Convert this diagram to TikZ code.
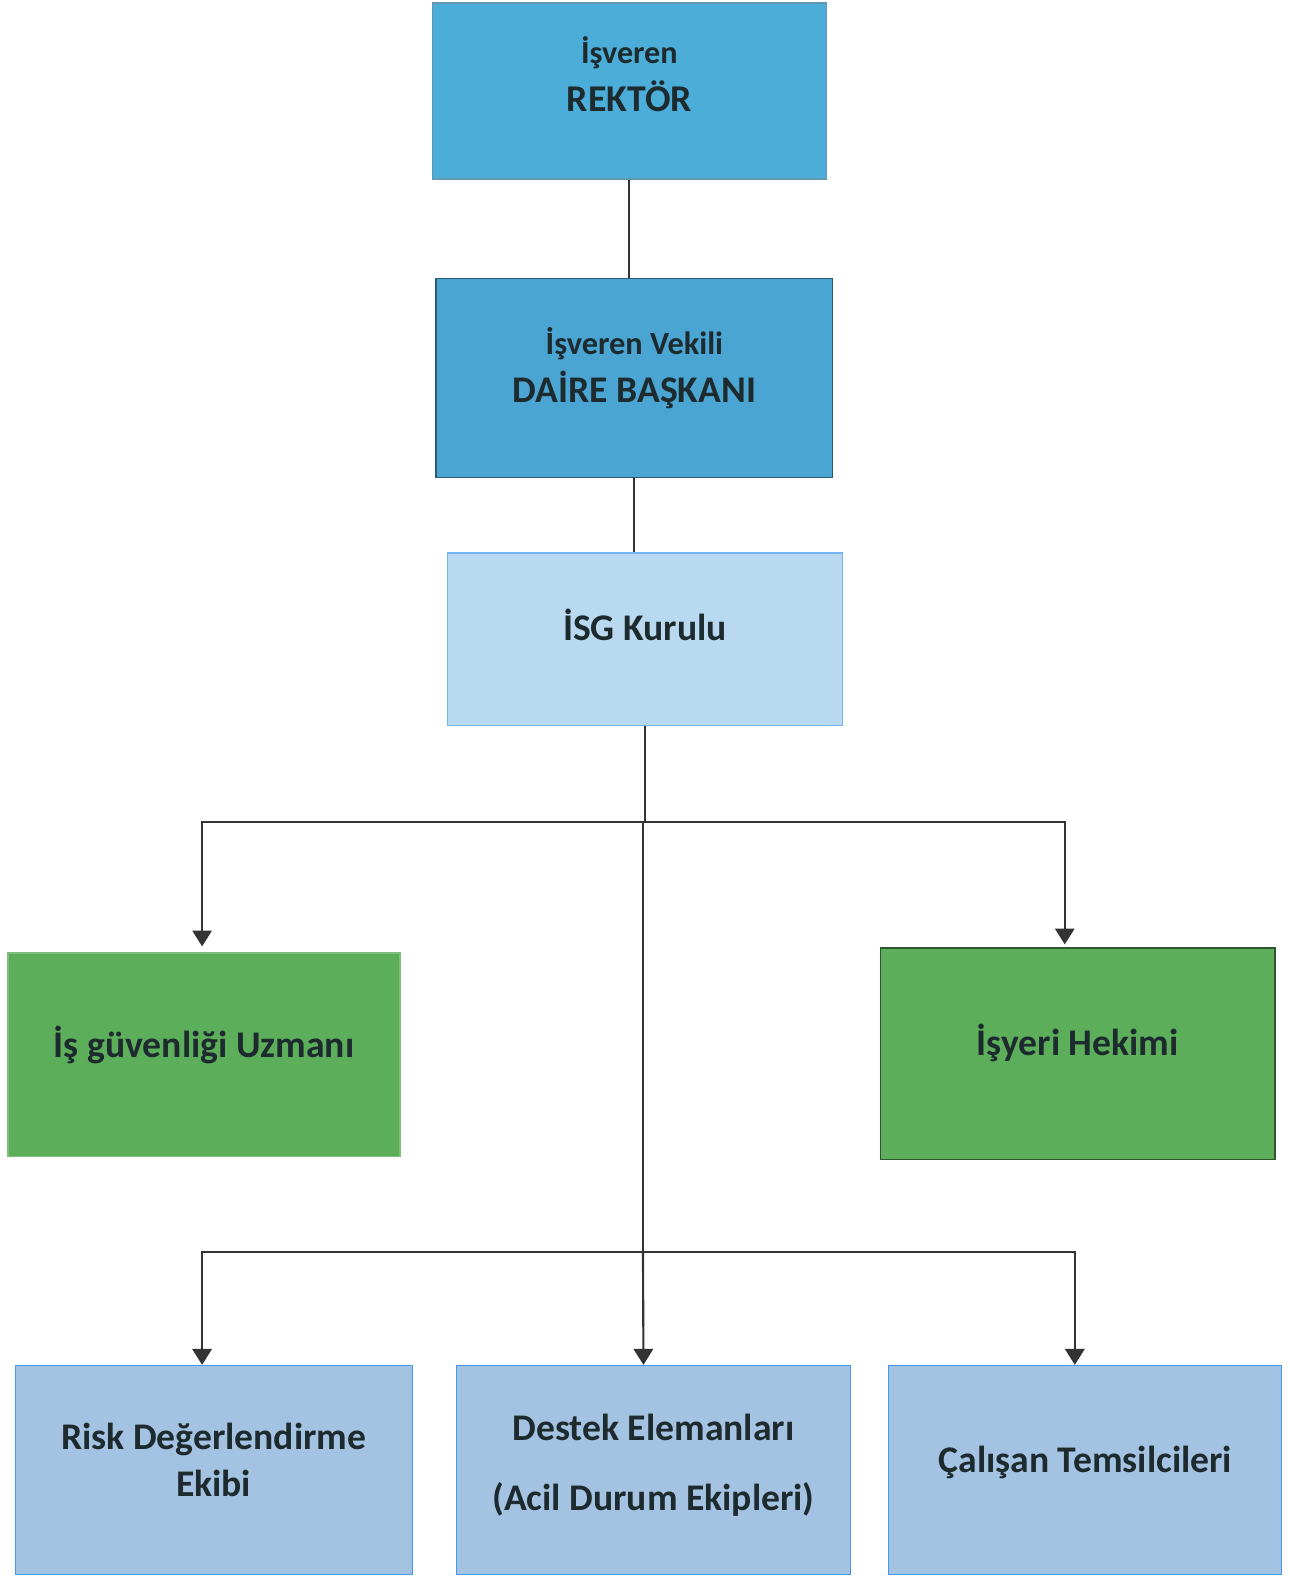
\documentclass[tikz,border=0pt]{standalone}
\usepackage{fontspec}
\setmainfont{Carlito}
\usepackage{xcolor}
\usepackage{tikz}
\usetikzlibrary{shapes, arrows.meta, calc, positioning}

\definecolor{rektorblue}{HTML}{4BADD8}
\definecolor{daireblue}{HTML}{4AA5D3}
\definecolor{kurulblue}{HTML}{B9D9F0}
\definecolor{uzmangreen}{HTML}{5DAE5B}
\definecolor{ekipblue}{HTML}{A4C3E2}
\definecolor{textdark}{HTML}{1D2B2E}
\definecolor{linegray}{HTML}{333333}
\definecolor{tipgray}{HTML}{2D4747}

\begin{document}
\begin{tikzpicture}[>={Triangle[width=11pt,length=9pt]}]

    % Define styles
    \tikzset{
        unit/.style={rectangle, minimum width=7.84cm},
        caption/.style={align=center, text=textdark, font=\bfseries\fontsize{21.3}{27}\selectfont},
        topunit/.style={unit, minimum height=3.5cm, fill=rektorblue, draw=rektorblue!55!gray, line width=0.8pt},
        deputy/.style={unit, minimum height=3.96cm, fill=daireblue, draw=daireblue!55!black, line width=1pt},
        board/.style={unit, minimum height=3.44cm, fill=kurulblue, draw=kurulblue!80!cyan!80!blue, line width=0.6pt},
        expert/.style={unit, minimum height=4.1cm, fill=uzmangreen, draw=uzmangreen!50!black, line width=0.8pt},
        team/.style={unit, minimum height=4.16cm, fill=ekipblue, draw=ekipblue!60!cyan!70!blue, line width=0.6pt},
        link/.style={draw=linegray, line width=1.2pt, arrows={-[fill=tipgray]}}
    }

    \useasboundingbox (0,0) rectangle (25.66,-31.35);

    % Nodes
    \node (rektor) [topunit, label={[caption, yshift=3.4mm]center:{\fontsize{18.2}{26}\selectfont İşveren\\ \fontsize{21.4}{26}\selectfont REKTÖR}}] at (12.52,-1.81) {};
    \node (daire) [deputy, minimum width=7.88cm, label={[caption, yshift=2mm]center:{\fontsize{18.3}{26}\selectfont İşveren Vekili\\ \fontsize{21.3}{26}\selectfont DAİRE BAŞKANI}}] at (12.62,-7.52) {};
    \node (kurul) [board, minimum width=7.86cm, label={[caption, yshift=2.8mm]center:İSG Kurulu}] at (12.83,-12.72) {};
    \node (uzman) [expert, minimum width=7.8cm, minimum height=4.04cm, draw=uzmangreen!80!white, label={[caption, yshift=2mm]center:İş güvenliği Uzmanı}] at (4.06,-20.98) {};
    \node (hekim) [expert, minimum height=4.2cm, label={[caption, yshift=2.2mm]center:İşyeri Hekimi}] at (21.44,-20.96) {};
    \node (risk) [team, minimum width=7.9cm, label={[caption, yshift=2mm]center:{Risk Değerlendirme\\ Ekibi}}] at (4.25,-29.24) {};
    \node (destek) [team, label={[caption, yshift=1mm]center:{Destek Elemanları\\[0.45cm] (Acil Durum Ekipleri)}}] at (13.0,-29.24) {};
    \node (calisan) [team, minimum width=7.82cm, label={[caption, yshift=1.4mm]center:Çalışan Temsilcileri}] at (21.59,-29.24) {};

    \coordinate (split1) at ($(kurul.south)+(0,-1.9)$);
    \coordinate (split2) at ($(split1)+(-0.04,-8.56)$);

    % Arrows
    \draw [link] (rektor.south) -- (rektor.south |- daire.north);
    \draw [link] (daire.south) -- (daire.south |- kurul.north);
    \draw [link] (kurul.south) -- (split1);
    \draw [link, ->] (split1) -| ([xshift=-0.04cm,yshift=0.12cm]uzman.north);
    \draw [link, ->] (split1) -| ([xshift=-0.26cm,yshift=0.06cm]hekim.north);
    \draw [link] ($(split1)+(-0.04,0)$) -- (split2);
    \draw [link, ->] (split2) -| ([xshift=-0.23cm]risk.north);
    \draw [link, ->] (split2) -- ([xshift=-0.2cm]destek.north);
    \draw [link, ->] (split2) -| ([xshift=-0.21cm]calisan.north);

\end{tikzpicture}
\end{document}
